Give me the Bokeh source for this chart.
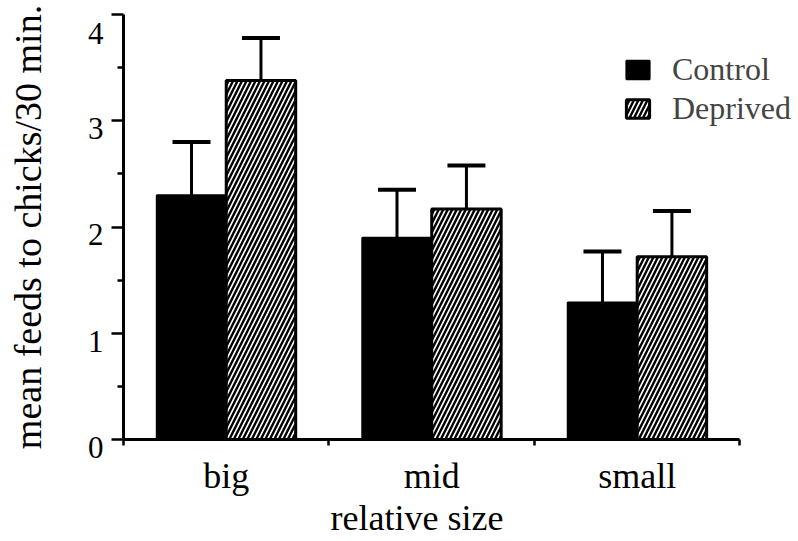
from bokeh.plotting import figure
from bokeh.models import (ColumnDataSource, Range1d, FixedTicker, Whisker, TeeHead,
                          Legend, LegendItem, Title)
from bokeh.embed import file_html
from bokeh.resources import INLINE

# ---- data ----
groups = ["big", "mid", "small"]
group_pos = [0.5, 1.5, 2.5]
control = [2.30, 1.90, 1.29]
control_err = [0.50, 0.45, 0.48]
deprived = [3.38, 2.17, 1.72]
deprived_err = [0.40, 0.41, 0.43]
y_ticks = [0, 1, 2, 3, 4]
y_minor = [0.5, 1.5, 2.5, 3.5]
x_bounds = [0, 1, 2, 3]

FONT = "Liberation Serif"
BW = 0.338  # bar width in data units

p = figure(width=798, height=541, output_backend="svg", toolbar_location=None,
           x_range=Range1d(0, 3.285), y_range=Range1d(0, 4),
           min_border_left=123, min_border_right=0, min_border_top=14,
           min_border_bottom=102)
p.outline_line_color = None
p.grid.visible = False
p.background_fill_color = "white"
p.border_fill_color = "white"

cx = [g - BW / 2 for g in group_pos]
dx = [g + BW / 2 for g in group_pos]

src_c = ColumnDataSource(dict(x=cx, top=control,
                              up=[v + e for v, e in zip(control, control_err)]))
src_d = ColumnDataSource(dict(x=dx, top=deprived,
                              up=[v + e for v, e in zip(deprived, deprived_err)]))

for s in (src_c, src_d):
    p.add_layout(Whisker(source=s, base="x", lower="top", upper="up", dimension="height",
                         line_width=3, line_color="black",
                         upper_head=TeeHead(size=38, line_width=4, line_color="black"),
                         lower_head=None))

rc = p.vbar(x="x", top="top", bottom=0, width=BW, source=src_c,
            fill_color="black", line_color="black", line_width=2)
rd = p.vbar(x="x", top="top", bottom=0, width=BW, source=src_d,
            fill_color="white", line_color="black", line_width=3,
            hatch_pattern="/", hatch_color="black", hatch_scale=9, hatch_weight=2.4)

# axes
xa = p.xaxis[0]
xa.ticker = FixedTicker(ticks=group_pos, minor_ticks=x_bounds)
xa.major_label_overrides = {g: n for g, n in zip(group_pos, groups)}
xa.major_tick_line_color = None
xa.major_tick_out = 0
xa.major_tick_in = 0
xa.minor_tick_out = 6
xa.minor_tick_in = 0
xa.minor_tick_line_width = 2.5
xa.axis_line_width = 3
xa.bounds = (0, 3)
xa.major_label_text_font = FONT
xa.major_label_text_font_size = "36px"
xa.major_label_text_color = "black"
xa.major_label_standoff = 10

xtitle = Title(text="relative size", align="left", offset=207, standoff=-5,
               text_font=FONT, text_font_size="36px", text_font_style="normal",
               text_color="black")
p.add_layout(xtitle, "below")

ya = p.yaxis[0]
ya.ticker = FixedTicker(ticks=y_ticks, minor_ticks=y_minor)
ya.major_label_overrides = {t: "\n" + str(t) for t in y_ticks}
ya.major_tick_out = 12
ya.major_tick_in = 0
ya.minor_tick_out = 6
ya.minor_tick_in = 0
ya.major_tick_line_width = 2.5
ya.minor_tick_line_width = 2.5
ya.axis_line_width = 3
ya.bounds = (0, 4)
ya.major_label_text_font = FONT
ya.major_label_text_font_size = "31px"
ya.major_label_text_line_height = 0.45
ya.major_label_text_color = "black"
ya.major_label_standoff = 8
ya.axis_label = "mean feeds to chicks/30 min."
ya.axis_label_text_font = FONT
ya.axis_label_text_font_size = "38px"
ya.axis_label_text_font_style = "normal"
ya.axis_label_text_color = "black"
ya.axis_label_standoff = 36

legend = Legend(items=[LegendItem(label="Control", renderers=[rc]),
                       LegendItem(label="Deprived", renderers=[rd])],
                location=(500, 312), glyph_width=29, glyph_height=23,
                label_text_font=FONT, label_text_font_size="32px",
                label_standoff=20, spacing=2, padding=0, margin=0,
                border_line_color=None, background_fill_alpha=0)
p.add_layout(legend)

open("out.html", "w").write(file_html(p, INLINE))
